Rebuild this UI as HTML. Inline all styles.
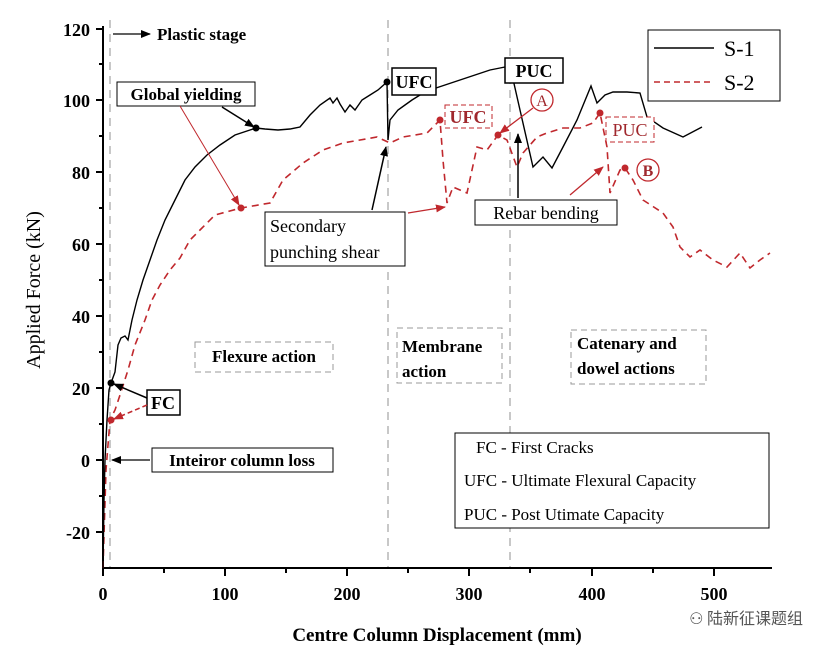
<!DOCTYPE html>
<html><head><meta charset="utf-8"><style>
body{margin:0;background:#fff}
svg{display:block;font-family:"Liberation Serif","Noto Serif CJK SC",serif}
</style></head><body>
<svg width="829" height="654" viewBox="0 0 829 654" xmlns="http://www.w3.org/2000/svg">
<defs>
<marker id="ab" markerWidth="10" markerHeight="8" refX="9" refY="4" orient="auto" markerUnits="userSpaceOnUse"><path d="M0,0L10,4L0,8z" fill="#000"/></marker>
<marker id="ar" markerWidth="10" markerHeight="8" refX="9" refY="4" orient="auto" markerUnits="userSpaceOnUse"><path d="M0,0L10,4L0,8z" fill="#c0282d"/></marker>
</defs>
<!-- vertical stage lines -->
<g stroke="#aaa" stroke-width="1.3" stroke-dasharray="8,6">
<line x1="110" y1="20" x2="110" y2="568"/><line x1="388" y1="20" x2="388" y2="568"/><line x1="510" y1="20" x2="510" y2="568"/>
</g>
<!-- axes -->
<g stroke="#000" stroke-width="2">
<line x1="103" y1="26" x2="103" y2="569"/><line x1="102" y1="568" x2="772" y2="568"/>
</g>
<g stroke="#000" stroke-width="2">
<line x1="96" y1="29" x2="103" y2="29"/><line x1="96" y1="100" x2="103" y2="100"/><line x1="96" y1="172" x2="103" y2="172"/><line x1="96" y1="244" x2="103" y2="244"/><line x1="96" y1="316" x2="103" y2="316"/><line x1="96" y1="388" x2="103" y2="388"/><line x1="96" y1="460" x2="103" y2="460"/><line x1="96" y1="532" x2="103" y2="532"/>
<line x1="99" y1="64" x2="103" y2="64"/><line x1="99" y1="136" x2="103" y2="136"/><line x1="99" y1="208" x2="103" y2="208"/><line x1="99" y1="280" x2="103" y2="280"/><line x1="99" y1="352" x2="103" y2="352"/><line x1="99" y1="424" x2="103" y2="424"/><line x1="99" y1="496" x2="103" y2="496"/>
<line x1="103" y1="568" x2="103" y2="576"/><line x1="225" y1="568" x2="225" y2="576"/><line x1="347" y1="568" x2="347" y2="576"/><line x1="469" y1="568" x2="469" y2="576"/><line x1="592" y1="568" x2="592" y2="576"/><line x1="714" y1="568" x2="714" y2="576"/>
<line x1="164" y1="568" x2="164" y2="573"/><line x1="286" y1="568" x2="286" y2="573"/><line x1="408" y1="568" x2="408" y2="573"/><line x1="530" y1="568" x2="530" y2="573"/><line x1="653" y1="568" x2="653" y2="573"/>
</g>
<g font-size="18" font-weight="bold" text-anchor="end">
<text x="90" y="36">120</text><text x="90" y="107">100</text><text x="90" y="179">80</text><text x="90" y="251">60</text><text x="90" y="323">40</text><text x="90" y="395">20</text><text x="90" y="467">0</text><text x="90" y="539">-20</text>
</g>
<g font-size="18" font-weight="bold" text-anchor="middle">
<text x="103" y="600">0</text><text x="225" y="600">100</text><text x="347" y="600">200</text><text x="469" y="600">300</text><text x="592" y="600">400</text><text x="714" y="600">500</text>
</g>
<text x="437" y="641" font-size="19" font-weight="bold" text-anchor="middle">Centre Column Displacement (mm)</text>
<text transform="translate(40,290) rotate(-90)" font-size="20" text-anchor="middle">Applied Force (kN)</text>
<!-- S-2 -->
<polyline fill="none" stroke="#c0282d" stroke-width="1.6" stroke-dasharray="7,5" points="103,568 106,470 110,420 115,410 120,395 128,370 135,345 145,320 152,300 160,285 170,270 180,258 190,240 200,230 215,215 241,208 270,203 283,180 303,163 323,150 343,143 377,137 390,143 403,137 427,133 440,120 443,160 447,203 453,187 467,193 477,147 487,150 498,135 507,140 517,167 523,153 537,137 547,133 563,128 580,128 593,123 600,113 607,147 610,193 620,170 625,168 633,180 643,200 663,213 673,227 680,247 690,257 700,250 713,260 727,267 740,253 750,268 760,260 770,253"/>
<!-- S-1 -->
<polyline fill="none" stroke="#000" stroke-width="1.4" points="103,568 104,500 105,460 107,420 109,390 111,383 115,372 118,345 121,338 125,336 128,340 132,320 137,300 143,280 150,260 157,240 165,220 175,200 185,180 195,167 207,155 220,145 235,135 250,130 256,128 265,129 278,130 290,129 300,127 310,115 320,105 330,98 333,103 337,98 340,104 345,112 350,105 355,110 362,100 370,95 378,90 387,82 388,140 390,120 398,110 405,105 412,100 420,95 430,90 445,85 460,80 475,75 490,70 500,68 510,66 520,110 533,167 543,157 552,168 563,147 577,120 591,86 597,103 605,95 613,92 627,92 640,93 647,117 663,128 683,137 702,127"/>
<!-- dots -->
<g fill="#000"><circle cx="111" cy="383" r="3.5"/><circle cx="256" cy="128" r="3.5"/><circle cx="387" cy="82" r="3.5"/><circle cx="510" cy="66" r="3.5"/></g>
<g fill="#c0282d"><circle cx="111" cy="420" r="3.5"/><circle cx="241" cy="208" r="3.5"/><circle cx="440" cy="120" r="3.5"/><circle cx="498" cy="135" r="3.5"/><circle cx="600" cy="113" r="3.5"/><circle cx="625" cy="168" r="3.5"/></g>
<!-- annotations -->
<line x1="113" y1="34" x2="150" y2="34" stroke="#000" stroke-width="1.3" marker-end="url(#ab)"/>
<text x="157" y="40" font-size="17" font-weight="bold">Plastic stage</text>
<rect x="117" y="82" width="138" height="24" fill="#fff" stroke="#000"/>
<text x="186" y="100" font-size="17" font-weight="bold" text-anchor="middle">Global yielding</text>
<line x1="222" y1="107" x2="254" y2="127" stroke="#000" stroke-width="1.5" marker-end="url(#ab)"/>
<line x1="180" y1="106" x2="239" y2="205" stroke="#c0282d" stroke-width="1" marker-end="url(#ar)"/>
<rect x="392" y="68" width="44" height="27" fill="#fff" stroke="#000" stroke-width="1.5"/>
<text x="414" y="88" font-size="18" font-weight="bold" text-anchor="middle">UFC</text>
<rect x="505" y="58" width="58" height="25" fill="#fff" stroke="#000" stroke-width="1.5"/>
<text x="534" y="77" font-size="18" font-weight="bold" text-anchor="middle">PUC</text>
<rect x="445" y="105" width="47" height="23" fill="#fff" stroke="#c0282d" stroke-dasharray="5,3"/>
<text x="468" y="123" font-size="18" font-weight="bold" fill="#a0282d" text-anchor="middle">UFC</text>
<rect x="606" y="117" width="48" height="25" fill="#fff" stroke="#c0282d" stroke-dasharray="5,3"/>
<text x="630" y="136" font-size="18" fill="#a0282d" text-anchor="middle">PUC</text>
<circle cx="542" cy="100" r="11" fill="none" stroke="#c0282d" stroke-width="1.3"/>
<text x="542" y="106" font-size="16" fill="#a0282d" text-anchor="middle">A</text>
<circle cx="648" cy="170" r="11" fill="none" stroke="#c0282d" stroke-width="1.3"/>
<text x="648" y="176" font-size="16" font-weight="bold" fill="#a0282d" text-anchor="middle">B</text>
<line x1="533" y1="108" x2="500" y2="133" stroke="#c0282d" stroke-width="1.3" marker-end="url(#ar)"/>
<line x1="570" y1="195" x2="603" y2="167" stroke="#c0282d" stroke-width="1.3" marker-end="url(#ar)"/>
<rect x="265" y="212" width="140" height="54" fill="#fff" stroke="#000"/>
<text x="270" y="232" font-size="18">Secondary</text>
<text x="270" y="258" font-size="18">punching shear</text>
<line x1="372" y1="210" x2="386" y2="147" stroke="#000" stroke-width="1.5" marker-end="url(#ab)"/>
<line x1="408" y1="213" x2="445" y2="207" stroke="#c0282d" stroke-width="1.3" marker-end="url(#ar)"/>
<rect x="475" y="200" width="142" height="25" fill="#fff" stroke="#000"/>
<text x="546" y="219" font-size="18" text-anchor="middle">Rebar bending</text>
<line x1="518" y1="198" x2="518" y2="134" stroke="#000" stroke-width="1.5" marker-end="url(#ab)"/>
<!-- legend -->
<rect x="648" y="30" width="132" height="71" fill="#fff" stroke="#000"/>
<line x1="654" y1="48" x2="714" y2="48" stroke="#000" stroke-width="1.5"/>
<text x="724" y="56" font-size="22">S-1</text>
<line x1="654" y1="82" x2="714" y2="82" stroke="#c0282d" stroke-width="1.5" stroke-dasharray="6,4"/>
<text x="724" y="90" font-size="22">S-2</text>
<!-- stage boxes -->
<g fill="none" stroke="#999" stroke-dasharray="6,4">
<rect x="195" y="342" width="138" height="30"/><rect x="397" y="328" width="105" height="55"/><rect x="571" y="330" width="135" height="54"/>
</g>
<text x="264" y="362" font-size="17" font-weight="bold" text-anchor="middle">Flexure action</text>
<text x="402" y="352" font-size="17" font-weight="bold">Membrane</text>
<text x="402" y="377" font-size="17" font-weight="bold">action</text>
<text x="577" y="349" font-size="17" font-weight="bold">Catenary and</text>
<text x="577" y="374" font-size="17" font-weight="bold">dowel actions</text>
<!-- FC -->
<rect x="147" y="390" width="33" height="25" fill="#fff" stroke="#000" stroke-width="1.5"/>
<text x="163" y="409" font-size="18" font-weight="bold" text-anchor="middle">FC</text>
<line x1="147" y1="398" x2="114" y2="384" stroke="#000" stroke-width="1.5" marker-end="url(#ab)"/>
<line x1="147" y1="405" x2="114" y2="419" stroke="#c0282d" stroke-width="1.5" stroke-dasharray="5,3" marker-end="url(#ar)"/>
<rect x="152" y="448" width="181" height="24" fill="#fff" stroke="#000"/>
<text x="242" y="466" font-size="17" font-weight="bold" text-anchor="middle">Inteiror column loss</text>
<line x1="150" y1="460" x2="112" y2="460" stroke="#000" stroke-width="1.3" marker-end="url(#ab)"/>
<!-- definitions -->
<rect x="455" y="433" width="314" height="95" fill="#fff" stroke="#000"/>
<text x="476" y="453" font-size="17">FC - First Cracks</text>
<text x="464" y="486" font-size="17">UFC - Ultimate Flexural Capacity</text>
<text x="464" y="520" font-size="17">PUC - Post Utimate Capacity</text>
<text x="803" y="624" font-size="16" fill="#555" text-anchor="end" font-family="'Noto Sans CJK SC',sans-serif">⚇ 陆新征课题组</text>
</svg>
</body></html>
